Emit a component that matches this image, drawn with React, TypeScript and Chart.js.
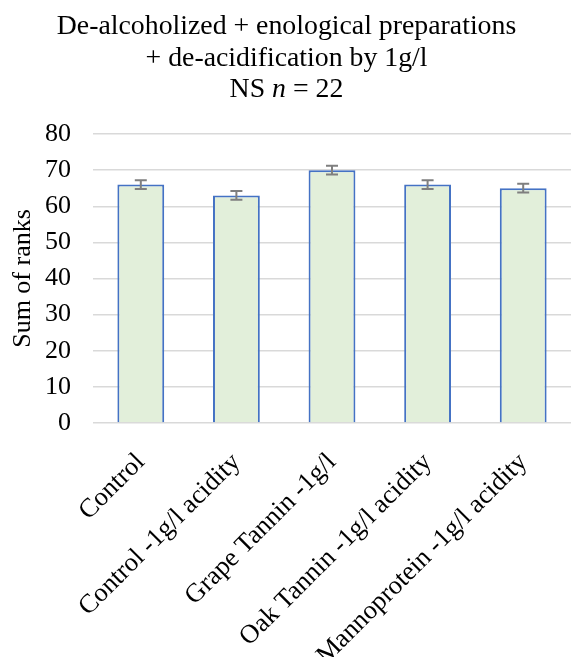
import React, { useEffect, useRef } from "react";
import { Chart, registerables } from "chart.js";

Chart.register(...registerables);

const categories = [
  "Control",
  "Control -1g/l acidity",
  "Grape Tannin -1g/l",
  "Oak Tannin -1g/l acidity",
  "Mannoprotein -1g/l acidity",
];
const sumOfRanks = [66, 63, 70, 66, 65];
const errorValues = [1.2, 1.2, 1.2, 1.2, 1.2];
const titleLine1 = "De-alcoholized + enological preparations";
const titleLine2 = "+ de-acidification by 1g/l";
const titleLine3Parts = [
  { text: "NS ", italic: false },
  { text: "n", italic: true },
  { text: " = 22", italic: false },
];
const yAxisTitle = "Sum of ranks";
const yMin = 0;
const yMax = 80;
const yStep = 10;

const FONT = '"Liberation Serif", "Times New Roman", serif';

const errorBarPlugin = {
  id: "errorBars",
  afterDatasetsDraw(chart: any) {
    const meta = chart.getDatasetMeta(0);
    const yScale = chart.scales.y;
    const ctx = chart.ctx;
    ctx.save();
    ctx.strokeStyle = "#7F7F7F";
    ctx.lineWidth = 2;
    meta.data.forEach((bar: any, i: number) => {
      const v = sumOfRanks[i];
      const e = errorValues[i];
      const yt = yScale.getPixelForValue(v + e);
      const yb = yScale.getPixelForValue(v - e);
      const x = bar.x;
      const cap = 6;
      ctx.beginPath();
      ctx.moveTo(x, yt);
      ctx.lineTo(x, yb);
      ctx.moveTo(x - cap, yt);
      ctx.lineTo(x + cap, yt);
      ctx.moveTo(x - cap, yb);
      ctx.lineTo(x + cap, yb);
      ctx.stroke();
    });
    ctx.restore();
  },
};

const titlePlugin = {
  id: "mixedTitle",
  afterDraw(chart: any) {
    const ctx = chart.ctx;
    const cx = chart.width / 2 + 1;
    ctx.save();
    ctx.fillStyle = "#000";
    ctx.textBaseline = "alphabetic";
    ctx.textAlign = "left";
    const normal = `27.8px ${FONT}`;
    const italic = `italic 27.8px ${FONT}`;
    const lines = [[{ text: titleLine1, italic: false }], [{ text: titleLine2, italic: false }], titleLine3Parts];
    const baselines = [34, 66, 97];
    lines.forEach((parts, li) => {
      let total = 0;
      parts.forEach((p) => {
        ctx.font = p.italic ? italic : normal;
        total += ctx.measureText(p.text).width;
      });
      let x = cx - total / 2;
      parts.forEach((p) => {
        ctx.font = p.italic ? italic : normal;
        ctx.fillText(p.text, x, baselines[li]);
        x += ctx.measureText(p.text).width;
      });
    });
    ctx.restore();
  },
};

export default function App() {
  const ref = useRef<HTMLCanvasElement | null>(null);
  useEffect(() => {
    if (!ref.current) return;
    const chart = new Chart(ref.current, {
      type: "bar",
      data: {
        labels: categories,
        datasets: [
          {
            data: sumOfRanks,
            backgroundColor: "#E2EFDA",
            borderColor: "#4472C4",
            borderWidth: 2,
            categoryPercentage: 1,
            barPercentage: 0.49,
          },
        ],
      },
      options: {
        animation: false,
        responsive: false,
        devicePixelRatio: 1,
        layout: { padding: { top: 134, left: 8, right: 0, bottom: 0 } },
        plugins: {
          legend: { display: false },
          title: { display: false },
          tooltip: { enabled: false },
        },
        scales: {
          x: {
            grid: { display: false, drawTicks: false },
            border: { display: false },
            ticks: {
              color: "#000",
              font: { family: FONT, size: 26.5 },
              minRotation: 45,
              maxRotation: 45,
              autoSkip: false,
              padding: 24,
            },
            afterFit: (scale: any) => {
              scale.height = 234;
            },
          },
          y: {
            min: yMin,
            max: yMax,
            ticks: {
              stepSize: yStep,
              color: "#000",
              font: { family: FONT, size: 26 },
              padding: 22,
            },
            grid: { color: "#D9D9D9", lineWidth: 1.5, drawTicks: false },
            border: { display: false },
            title: {
              display: true,
              text: yAxisTitle,
              color: "#000",
              font: { family: FONT, size: 26 },
              padding: 0,
            },
            afterFit: (scale: any) => {
              scale.width = 85;
            },
          },
        },
      },
      plugins: [errorBarPlugin, titlePlugin],
    });
    return () => chart.destroy();
  }, []);
  return (
    <div style={{ position: "fixed", left: 0, top: 0, width: 571, height: 657, overflow: "hidden", background: "#fff" }}>
      <canvas ref={ref} width={571} height={657} />
    </div>
  );
}
